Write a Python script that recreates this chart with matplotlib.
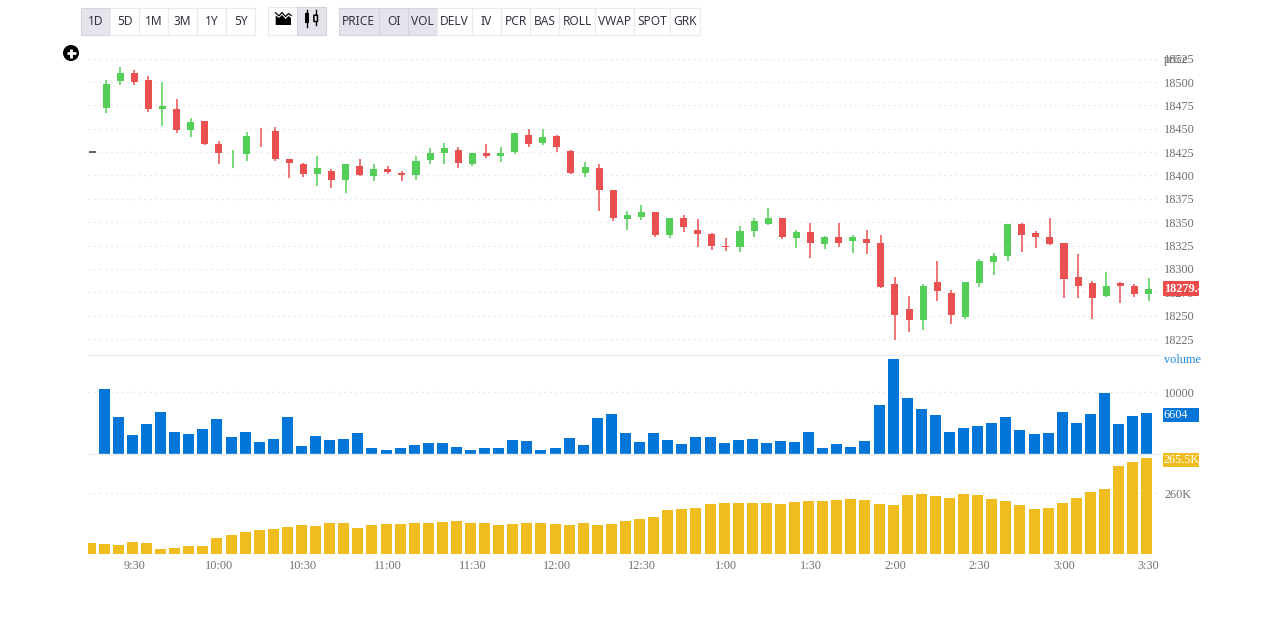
import matplotlib
matplotlib.use("Agg")
import matplotlib.pyplot as plt
from matplotlib.patches import Rectangle, Polygon, Circle, FancyBboxPatch

opens = [18472,18501,18510,18502,18471,18471,18449,18458,18434,18424,18423,18442,18448,18418,18412,18402,18405,18395,18410,18399,
         18407,18403,18401,18417,18424,18427,18412,18424,18421,18425,18443,18435,18442,18426,18403,18408,18384,18353,18356,18361,
         18336,18354,18342,18337,18325,18323,18341,18348,18354,18333,18339,18327,18334,18330,18332,18328,18284,18257,18245,18286,
         18274,18249,18285,18307,18314,18348,18338,18334,18328,18291,18285,18271,18285,18282,18273]
highs = [18502,18516,18513,18507,18500,18482,18461,18458,18437,18427,18447,18451,18452,18418,18413,18421,18407,18412,18418,18412,
         18410,18405,18421,18429,18435,18431,18424,18434,18431,18445,18450,18450,18443,18427,18414,18412,18384,18362,18368,18361,
         18355,18358,18353,18338,18333,18346,18355,18365,18354,18342,18349,18335,18349,18336,18342,18336,18291,18271,18284,18309,
         18277,18286,18311,18317,18348,18349,18341,18354,18328,18316,18287,18297,18286,18284,18290]
lows = [18467,18497,18497,18468,18453,18446,18441,18433,18412,18408,18416,18431,18416,18397,18398,18389,18387,18381,18399,18394,
        18402,18394,18395,18412,18412,18408,18410,18419,18414,18423,18431,18433,18425,18402,18398,18362,18351,18342,18352,18334,
        18333,18339,18323,18320,18319,18318,18334,18347,18332,18322,18312,18321,18324,18317,18316,18280,18224,18232,18235,18266,
        18241,18246,18281,18293,18309,18318,18322,18326,18269,18269,18246,18270,18263,18270,18266]
closes = [18498,18510,18500,18471,18474,18449,18457,18434,18424,18424,18442,18441.9,18418,18413,18402,18408,18395,18412,18400,18407,
          18404,18400,18416,18424,18429,18413,18424,18421,18424,18445,18434,18441,18430,18403,18409,18385,18354,18358,18361,18336,
          18355,18345,18337,18325,18323,18341,18351,18355,18334,18339,18328,18334,18328,18334,18328,18281,18251,18245,18282,18276,
          18251,18286,18309,18314,18348,18336,18334,18327,18289,18282,18269,18282,18282,18273,18279]
volume = [10591,6075,3172,4946,6882,3656,3333,4140,5753,2849,3656,2043,2527,6075,1398,3011,2366,2527,3495,1075,
          753,1075,1559,1882,1882,1237,753,1075,1075,2366,2204,753,1075,2688,1559,5914,6559,3495,2043,3495,
          2366,1720,2849,2849,1882,2366,2527,1882,2204,2043,3656,1075,1720,1237,2204,8011,15430,9140,7366,6398,
          3656,4301,4624,5108,6075,3978,3333,3495,6882,5108,6559,9946,4946,6237,6604]
open_interest = [252267,252111,251955,252423,252267,251333,251488,251800,251800,253045,253513,253980,254291,254447,254758,255070,254914,255381,255381,254602,
                 255070,255225,255225,255381,255381,255537,255692,255381,255381,255070,255225,255381,255381,255225,255070,255381,255070,255225,255692,256004,
                 256315,257405,257561,257716,258339,258495,258495,258495,258495,258339,258651,258806,258806,258962,259118,258962,258339,258184,259741,259896,
                 259585,259273,259896,259741,259118,258806,258184,257561,257716,258495,259273,260208,260675,264256,264879,265500]
time_labels = ["9:30","10:00","10:30","11:00","11:30","12:00","12:30","1:00","1:30","2:00","2:30","3:00","3:30"]
price_ticks = [18225,18250,18275,18300,18325,18350,18375,18400,18425,18450,18475,18500,18525]
volume_ticks = [10000]
oi_ticks = [260000]
range_buttons = ["1D","5D","1M","3M","1Y","5Y"]
series_buttons = ["PRICE","OI","VOL","DELV","IV","PCR","BAS","ROLL","VWAP","SPOT","GRK"]

W, H = 1280, 620
GREEN, RED, BLUE, YELLOW = "#53CE57", "#EB5050", "#0275D8", "#EFBD1F"
GRID = "#EBEBEB"
TICK = "#707070"
SERIF = "Liberation Serif"
UI = "Noto Sans"

fig = plt.figure(figsize=(W/100, H/100), dpi=100, facecolor="white")

def panel(top, bottom):
    return fig.add_axes([88/W, 1-bottom/H, (1160-88)/W, (bottom-top)/H])

# x scale: index 0 sits at px 92, index 75 at px 1148.5
step = (1148.5-92)/75
xlim = ((88-92)/step, (1160-92)/step)
BAR_SHIFT = -1.8/step  # histogram bars sit slightly left of the candles

# price: 18525 at px 58.7, 18225 at px 339
ppu = (339-58.7)/300
ax_p = panel(50, 354.5)
ax_p.set_ylim(18225-(354.5-339)/ppu, 18525+(58.7-50)/ppu)
ax_v = panel(354.5, 454.3)
ax_v.set_ylim(0, 99.8/0.0062)
ax_o = panel(454.3, 554)
ax_o.set_ylim(250554, 250554+99.7/0.00642)

for ax in (ax_p, ax_v, ax_o):
    ax.set_xlim(*xlim)
    ax.patch.set_alpha(0)
    for s in ax.spines.values():
        s.set_visible(False)
    ax.yaxis.tick_right()
    ax.tick_params(axis="y", length=0, pad=3, labelsize=8.8, labelcolor=TICK)
    ax.tick_params(axis="x", length=0, labelbottom=False)
    ax.grid(axis="y", color=GRID, lw=0.8, ls=(0, (2, 3)))
    ax.set_axisbelow(True)

ax_p.set_yticks(price_ticks, [str(v) for v in price_ticks], family=SERIF)
ax_v.set_yticks(volume_ticks, ["10000"], family=SERIF)
ax_o.set_yticks(oi_ticks, ["260K"], family=SERIF)

idx = list(range(1, len(opens)+1))
colors = [GREEN if c >= o else RED for o, c in zip(opens, closes)]
ax_p.vlines(idx, lows, highs, colors=colors, lw=1.1)
ax_p.bar(idx, [abs(c-o) for o, c in zip(opens, closes)], bottom=[min(o, c) for o, c in zip(opens, closes)],
         width=0.5, color=colors, lw=0)

ax_v.bar([i+BAR_SHIFT for i in idx], volume, width=0.78, color=BLUE, lw=0)
ax_o.bar([i+BAR_SHIFT for i in range(len(open_interest))], open_interest, width=0.78, color=YELLOW, lw=0)
ax_o.set_xticks(list(range(3, 76, 6)), time_labels, family=SERIF)
ax_o.tick_params(axis="x", labelbottom=True, labelsize=8.8, labelcolor=TICK, pad=4)

# overlay in pixel coordinates for the toolbar and axis badges
ui = fig.add_axes([0, 0, 1, 1], zorder=10)
ui.set_xlim(0, W)
ui.set_ylim(H, 0)
ui.axis("off")
ui.patch.set_alpha(0)

ui.plot([88, 1160], [354.5, 354.5], color="#EDEDED", lw=1)
ui.plot([88, 1160], [454.3, 454.3], color="#EDEDED", lw=1)

def button_row(edges, labels, active, top=8.3, bottom=35.3):
    for i, lab in enumerate(labels):
        x0, x1 = edges[i]-0.5, edges[i+1]-0.5
        on = i in active
        ui.add_patch(Rectangle((x0, top), x1-x0, bottom-top, fc="#E4E4EC" if on else "white",
                               ec="#D4D4DC" if on else "#E9E9EF", lw=0.8))
        ui.text((x0+x1)/2, (top+bottom)/2, lab, ha="center", va="center", family=UI,
                fontsize=8.6, color="#333340")

button_row([81, 110.5, 139.5, 168.6, 197.6, 226.7, 255.7], range_buttons, {0})
button_row([339, 379.5, 408.5, 437.5, 472.5, 501.5, 530.5, 559.6, 595.4, 634.5, 670.3, 700.6],
           series_buttons, {0, 1, 2})

# chart type toggle
ui.add_patch(Rectangle((268, 7), 29.1, 27.7, fc="white", ec="#E9E9EF", lw=0.8))
ui.add_patch(Rectangle((297.1, 7), 29, 27.7, fc="#E4E4EC", ec="#D4D4DC", lw=0.8))
ui.add_patch(Polygon([(275.7, 25), (275.7, 15.5), (279, 18), (282, 15), (285.5, 19), (288.5, 16), (291, 18), (291, 25)],
                     fc="black", ec="none"))
ui.plot([275.5, 279, 282, 285.5, 288.5, 291.2], [12.8, 15.8, 12.5, 16.5, 13.5, 15.5], color="black", lw=0.9)
ui.add_patch(FancyBboxPatch((305.6, 13.5), 2.8, 9, boxstyle="round,pad=0.6", fc="black", ec="none"))
ui.plot([307, 307], [9.7, 26.7], color="black", lw=1)
ui.plot([315.7, 315.7], [10, 24.7], color="black", lw=1)
ui.add_patch(FancyBboxPatch((314.3, 15.6), 2.8, 5.5, boxstyle="round,pad=0.4", fc="#E4E4EC", ec="black", lw=1.1, zorder=5))

# zoom control and dash marker
ui.add_patch(Circle((71, 53), 8, fc="black", ec="none"))
ui.plot([66.5, 75.5], [53, 53], color="white", lw=2, solid_capstyle="butt")
ui.plot([71, 71], [48.5, 57.5], color="white", lw=2, solid_capstyle="butt")
ui.add_patch(Rectangle((89, 151), 7, 1.6, fc="#666666", ec="none"))

# axis badges
ui.text(1163.5, 59.5, "price", family=SERIF, fontsize=8.8, color=TICK, ha="left", va="center")
ui.text(1163.5, 360, "volume", family=SERIF, fontsize=8.8, color="#1E88E5", ha="left", va="center")
for y0, y1, col, lab in [(281, 296, "#EF4B4B", "18279.4"), (407.7, 422, BLUE, "6604"), (453, 467, YELLOW, "265.5K")]:
    box = Rectangle((1163, y0), 36, y1-y0, fc=col, ec="none")
    ui.add_patch(box)
    t = ui.text(1164, (y0+y1)/2, lab, family=SERIF, fontsize=8.8, color="white", ha="left", va="center",
                fontweight="bold" if col == "#EF4B4B" else "normal")
    t.set_clip_path(box)

fig.savefig("out.png", dpi=100)
